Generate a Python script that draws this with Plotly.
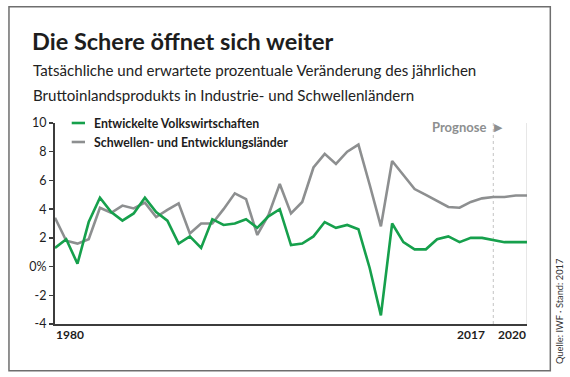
import plotly.graph_objects as go

# ---------------- data ----------------
YEARS = list(range(1980, 2023))
ADVANCED = [1.3, 1.9, 0.2, 3.1, 4.8, 3.8, 3.2, 3.7, 4.8, 3.8,
            3.2, 1.6, 2.1, 1.3, 3.3, 2.9, 3.0, 3.3, 2.7, 3.5,
            4.0, 1.5, 1.6, 2.1, 3.1, 2.7, 2.9, 2.6, -0.1, -3.4,
            3.0, 1.7, 1.2, 1.2, 1.9, 2.1, 1.7, 2.0, 2.0, 1.85,
            1.7, 1.7, 1.7]
EMERGING = [3.4, 1.8, 1.6, 1.9, 4.1, 3.75, 4.25, 4.05, 4.45, 3.45,
            3.95, 4.4, 2.3, 3.0, 3.0, 4.0, 5.1, 4.7, 2.2, 3.6,
            5.75, 3.7, 4.5, 6.9, 7.85, 7.15, 8.0, 8.5, 5.7, 2.8,
            7.35, 6.4, 5.4, 5.0, 4.6, 4.15, 4.1, 4.5, 4.75, 4.85,
            4.85, 4.95, 4.95]
SERIES_NAMES = ["Entwickelte Volkswirtschaften", "Schwellen- und Entwicklungsländer"]
Y_TICKS = [-4, -2, 0, 2, 4, 6, 8, 10]
Y_TICK_LABELS = ["-4", "-2", "0%", "2", "4", "6", "8", "10"]
X_LABELS = ["1980", "2017", "2020"]
FORECAST_LINE_YEAR = 2019

TITLE = "Die Schere öffnet sich weiter"
SUB1 = "Tatsächliche und erwartete prozentuale Veränderung des jährlichen"
SUB2 = "Bruttoinlandsprodukts in Industrie- und Schwellenländern"
SOURCE = "Quelle: IWF · Stand: 2017"

GREEN = "#16a04c"
GREY = "#8d8f90"
DARK = "#3c3c3c"
FONT = "Lato"

# plot area in pixels
W, H = 570, 377
L, R, T, B = 55, 526.7, 123.3, 324.3


def xp(px):
    return (px - L) / (R - L)


def yp(py):
    return (B - py) / (B - T)


fig = go.Figure()
fig.add_trace(go.Scatter(x=YEARS, y=EMERGING, mode="lines", name=SERIES_NAMES[1],
                         line=dict(color=GREY, width=2.6), showlegend=False, hoverinfo="skip"))
fig.add_trace(go.Scatter(x=YEARS, y=ADVANCED, mode="lines", name=SERIES_NAMES[0],
                         line=dict(color=GREEN, width=2.6), showlegend=False, hoverinfo="skip"))

shapes = [
    # outer frame
    dict(type="rect", xref="paper", yref="paper", x0=xp(9), x1=xp(550), y0=yp(371), y1=yp(7),
         line=dict(color="#6e6e6e", width=1.5), layer="below"),
    # forecast divider
    dict(type="line", xref="x", yref="y", x0=FORECAST_LINE_YEAR, x1=FORECAST_LINE_YEAR, y0=-4, y1=10,
         line=dict(color="#c4c4c4", width=1, dash="dot"), layer="below"),
    # right end line
    dict(type="line", xref="x", yref="y", x0=YEARS[-1], x1=YEARS[-1], y0=-4, y1=10,
         line=dict(color="#cfcfcf", width=1), layer="below"),
    # legend samples
    dict(type="line", xref="paper", yref="paper", x0=xp(71.7), x1=xp(85), y0=yp(123.3), y1=yp(123.3),
         line=dict(color=GREEN, width=2.6)),
    dict(type="line", xref="paper", yref="paper", x0=xp(71.7), x1=xp(85), y0=yp(142.3), y1=yp(142.3),
         line=dict(color=GREY, width=2.6)),
]

annotations = [
    dict(text="<b>" + TITLE + "</b>", x=xp(30), y=yp(41), xanchor="left", yanchor="middle",
         font=dict(family=FONT, size=23.5, color="#1d1d1d")),
    dict(text=SUB1, x=xp(31), y=yp(70), xanchor="left", yanchor="middle",
         font=dict(family=FONT, size=15.1, color="#222")),
    dict(text=SUB2, x=xp(31), y=yp(95), xanchor="left", yanchor="middle",
         font=dict(family=FONT, size=15.1, color="#222")),
    dict(text="<b>" + SERIES_NAMES[0] + "</b>", x=xp(92), y=yp(123.3), xanchor="left", yanchor="middle",
         font=dict(family=FONT, size=12.3, color="#1d1d1d")),
    dict(text="<b>" + SERIES_NAMES[1] + "</b>", x=xp(92), y=yp(142.3), xanchor="left", yanchor="middle",
         font=dict(family=FONT, size=12.3, color="#1d1d1d")),
    dict(text="<b>Prognose</b>", x=xp(487.5), y=yp(127.3), xanchor="right", yanchor="middle",
         font=dict(family=FONT, size=13, color=GREY)),
    dict(text="▶", x=xp(498), y=yp(127.5), xanchor="center", yanchor="middle",
         font=dict(family="DejaVu Sans", size=11, color=GREY)),
    dict(text="<b>" + X_LABELS[0] + "</b>", x=xp(54), y=yp(335), xanchor="left", yanchor="middle",
         font=dict(family=FONT, size=12, color="#1d1d1d")),
    dict(text="<b>" + X_LABELS[1] + "</b>", x=xp(487), y=yp(335), xanchor="right", yanchor="middle",
         font=dict(family=FONT, size=12, color="#1d1d1d")),
    dict(text="<b>" + X_LABELS[2] + "</b>", x=xp(528), y=yp(335), xanchor="right", yanchor="middle",
         font=dict(family=FONT, size=12, color="#1d1d1d")),
    dict(text=SOURCE, x=xp(559), y=yp(311), xanchor="center", yanchor="middle", textangle=-90,
         font=dict(family=FONT, size=9.3, color="#333")),
]
for a in annotations:
    a.update(xref="paper", yref="paper", showarrow=False)

fig.update_layout(
    width=W, height=H, autosize=False,
    margin=dict(l=L, r=W - R, t=T, b=H - B, pad=0),
    paper_bgcolor="white", plot_bgcolor="white",
    showlegend=False, hovermode=False,
    shapes=shapes, annotations=annotations,
    xaxis=dict(range=[YEARS[0], YEARS[-1]], showgrid=False, zeroline=False,
               showticklabels=False, ticks="", showline=True, linecolor=DARK, linewidth=2),
    yaxis=dict(range=[-4, 10], showgrid=False, zeroline=False, tickmode="array",
               tickvals=Y_TICKS, ticktext=Y_TICK_LABELS, ticks="outside", ticklen=4,
               tickwidth=1.5, tickcolor=DARK, showline=True, linecolor=DARK, linewidth=2,
               tickfont=dict(family=FONT, size=12.5, color="#1d1d1d")),
)

fig.write_html(
    "out.html",
    config={"displayModeBar": False, "staticPlot": True},
    post_script="document.body.style.margin='0';document.body.style.padding='0';"
                "document.documentElement.style.overflow='hidden';",
)
